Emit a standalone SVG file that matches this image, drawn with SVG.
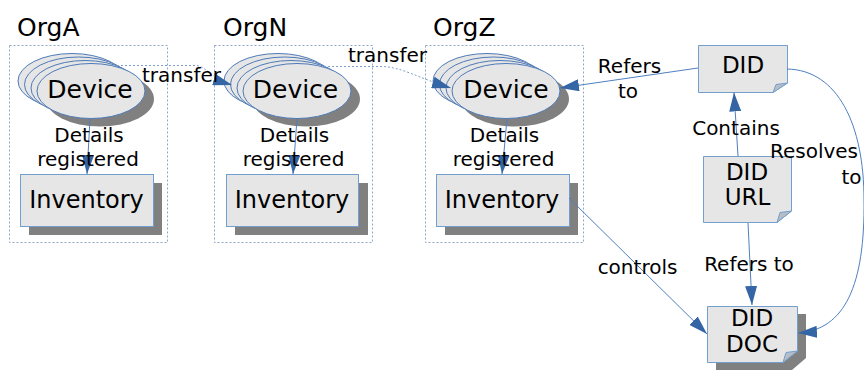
<svg xmlns="http://www.w3.org/2000/svg" width="864" height="370" viewBox="0 0 864 370">
<style>
text{font-family:"DejaVu Sans","Liberation Sans",sans-serif;fill:#000}
.org{font-size:25px}
.dev{font-size:25px;text-anchor:middle}
.inv{font-size:24px;text-anchor:middle}
.did{font-size:23px;text-anchor:middle}
.lbl{font-size:20px;text-anchor:middle}
.box{fill:none;stroke:#8fa5c6;stroke-width:1;stroke-dasharray:2 2}
.ell{fill:#e6e6e6;stroke:#4e7ab8;stroke-width:1}
.shd{fill:#808080}
.rect{fill:#e6e6e6;stroke:#729fcf;stroke-width:1}
.fold{fill:#b8bcc4;stroke:#729fcf;stroke-width:1}
.ln{fill:none;stroke:#4f7fbf;stroke-width:1}
.dot{fill:none;stroke:#7fa0cc;stroke-width:1;stroke-dasharray:2 2}
</style>
<defs>
<marker id="arr" markerUnits="userSpaceOnUse" markerWidth="20" markerHeight="12" refX="19" refY="6" orient="auto">
<path d="M0,0 L19,6 L0,12 z" fill="#3465a4"/>
</marker>
</defs>

<g id="orgA">
<rect class="box" x="9.5" y="45.5" width="158" height="197"/>
<text class="org" x="17" y="36">OrgA</text>
</g>
<g id="orgN">
<rect class="box" x="214.5" y="45.5" width="158" height="197"/>
<text class="org" x="223" y="36">OrgN</text>
</g>
<g id="orgZ">
<rect class="box" x="425.5" y="45.5" width="158" height="197"/>
<text class="org" x="433" y="36">OrgZ</text>
</g>

<g id="deviceA">
<ellipse class="shd" cx="100" cy="99" rx="54" ry="27.5"/>
<ellipse class="ell" cx="72" cy="81" rx="54" ry="27.5"/>
<ellipse class="ell" cx="78.5" cy="84.5" rx="54" ry="27.5"/>
<ellipse class="ell" cx="85" cy="88" rx="54" ry="27.5"/>
<ellipse class="ell" cx="91" cy="91" rx="54" ry="27.5"/>
<text class="dev" x="90" y="98">Device</text>
</g>
<g id="deviceN">
<ellipse class="shd" cx="306" cy="99" rx="54" ry="27.5"/>
<ellipse class="ell" cx="278" cy="81" rx="54" ry="27.5"/>
<ellipse class="ell" cx="284.5" cy="84.5" rx="54" ry="27.5"/>
<ellipse class="ell" cx="291" cy="88" rx="54" ry="27.5"/>
<ellipse class="ell" cx="297" cy="91" rx="54" ry="27.5"/>
<text class="dev" x="295.5" y="98">Device</text>
</g>
<g id="deviceZ">
<ellipse class="shd" cx="515" cy="99" rx="54" ry="27.5"/>
<ellipse class="ell" cx="487" cy="81" rx="54" ry="27.5"/>
<ellipse class="ell" cx="493.5" cy="84.5" rx="54" ry="27.5"/>
<ellipse class="ell" cx="500" cy="88" rx="54" ry="27.5"/>
<ellipse class="ell" cx="506" cy="91" rx="54" ry="27.5"/>
<text class="dev" x="506" y="98">Device</text>
</g>

<g id="inventoryA">
<rect class="shd" x="29" y="183" width="133" height="52"/>
<rect class="rect" x="20.5" y="174.5" width="133" height="52"/>
<text class="inv" x="86.5" y="208">Inventory</text>
</g>
<g id="inventoryN">
<rect class="shd" x="235" y="183" width="133" height="52"/>
<rect class="rect" x="226.5" y="174.5" width="132" height="52"/>
<text class="inv" x="292" y="208">Inventory</text>
</g>
<g id="inventoryZ">
<rect class="shd" x="445" y="183" width="133" height="52"/>
<rect class="rect" x="436.5" y="174.5" width="133" height="52"/>
<text class="inv" x="502" y="208">Inventory</text>
</g>

<g id="did">
<path class="rect" d="M698.5,45.5 H787.5 V83 L773,92.5 H698.5 Z"/>
<path class="fold" d="M787.5,83 L773,92.5 L776,84.5 Z"/>
<text class="did" x="743" y="73">DID</text>
</g>
<g id="didurl">
<path class="rect" d="M703.5,156.5 H791.5 V211 L777,222.5 H703.5 Z"/>
<path class="fold" d="M791.5,211 L777,222.5 L780,212.5 Z"/>
<text class="did" x="747" y="180">DID</text>
<text class="did" x="747.5" y="205">URL</text>
</g>
<g id="diddoc">
<path class="shd" d="M716,314 H806 V358 L792,370 H716 Z"/>
<path class="rect" d="M707.5,306.5 H797.5 V351 L783,362.5 H707.5 Z"/>
<path class="fold" d="M797.5,351 L783,362.5 L786,352.5 Z"/>
<text class="did" x="752" y="326">DID</text>
<text class="did" x="752" y="352">DOC</text>
</g>

<g id="connectors">
<path class="ln" d="M90,118.5 L87,174" marker-end="url(#arr)"/>
<path class="ln" d="M297,118.5 L293,174" marker-end="url(#arr)"/>
<path class="ln" d="M507,118.5 L502,174" marker-end="url(#arr)"/>
<path class="dot" d="M117,65.5 L196,65.5 C206,66 212,79 232,85" marker-end="url(#arr)"/>
<path class="dot" d="M324,66.5 L382,66.5 C402,67 418,78 451,88" marker-end="url(#arr)"/>
<path class="ln" d="M698,68 L560,88" marker-end="url(#arr)"/>
<path class="ln" d="M738,156 L734,92.5" marker-end="url(#arr)"/>
<path class="ln" d="M748,223 L752,305" marker-end="url(#arr)"/>
<path class="ln" d="M569,198 L707,334" marker-end="url(#arr)"/>
<path class="ln" d="M787,69 C838,70 864,125 864,200 C865,285 845,330 798,333" marker-end="url(#arr)"/>
</g>

<g id="labels">
<text class="lbl" x="89" y="142">Details</text>
<text class="lbl" x="88" y="166">registered</text>
<text class="lbl" x="294.5" y="142">Details</text>
<text class="lbl" x="293.5" y="166">registered</text>
<text class="lbl" x="504.5" y="142">Details</text>
<text class="lbl" x="503.5" y="166">registered</text>
<text class="lbl" x="181.5" y="82">transfer</text>
<text class="lbl" x="387.5" y="62">transfer</text>
<text class="lbl" x="629.5" y="73">Refers</text>
<text class="lbl" x="628" y="98">to</text>
<text class="lbl" x="736" y="135">Contains</text>
<text class="lbl" x="814" y="158">Resolves</text>
<text class="lbl" x="851.5" y="184">to</text>
<text class="lbl" x="749" y="271">Refers to</text>
<text class="lbl" x="637.5" y="274">controls</text>
</g>
</svg>
